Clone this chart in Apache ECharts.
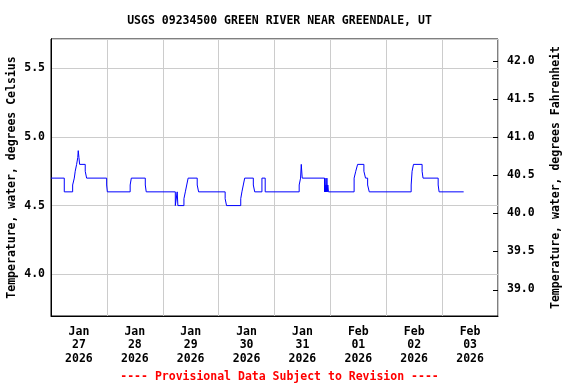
<!DOCTYPE html>
<html>
<head>
<meta charset="utf-8">
<script src="https://cdn.jsdelivr.net/npm/echarts@6/dist/echarts.min.js"></script>
<style>
html,body{margin:0;padding:0;background:#fff;}
#chart{width:576px;height:384px;}
</style>
</head>
<body>
<div id="chart"></div>
<script>
// Day labels, placed at noon of each day (x in hours since Jan 27 2026 00:00)
const dayLabels = ['Jan\n27\n2026','Jan\n28\n2026','Jan\n29\n2026','Jan\n30\n2026','Jan\n31\n2026','Feb\n01\n2026','Feb\n02\n2026','Feb\n03\n2026'];
const dayLabelHours = [12, 36, 60, 84, 108, 132, 156, 180];
// Change points: hours since Jan 27 00:00, and the temperature (deg C) from then on
const hoursSinceStart = [0, 5.7, 9.3, 10.0, 10.4, 11.0, 11.5, 11.7, 12.0, 12.3, 14.7, 15.3, 23.9, 24.2,
  34.0, 34.5, 40.5, 40.9, 53.4, 54.2, 54.5, 57.1, 57.7, 58.3, 58.9, 62.8, 63.4,
  74.8, 75.4, 81.5, 82.0, 82.6, 83.2, 86.9, 87.5, 90.6, 92.0,
  106.6, 107.2, 107.5, 107.9, 117.5, 117.7, 117.9, 118.1, 118.3, 118.5, 118.7, 118.9, 119.2,
  130.2, 130.9, 131.7, 134.4, 135.1, 136.0, 136.7,
  154.7, 155.1, 155.7, 159.4, 159.8, 166.3, 166.7, 177.25];
const tempC = [4.7, 4.6, 4.65, 4.7, 4.75, 4.8, 4.85, 4.9, 4.85, 4.8, 4.75, 4.7, 4.65, 4.6,
  4.65, 4.7, 4.65, 4.6, 4.5, 4.6, 4.5, 4.55, 4.6, 4.65, 4.7, 4.65, 4.6,
  4.55, 4.5, 4.55, 4.6, 4.65, 4.7, 4.65, 4.6, 4.7, 4.6,
  4.65, 4.7, 4.8, 4.7, 4.6, 4.7, 4.6, 4.65, 4.6, 4.7, 4.6, 4.65, 4.6,
  4.7, 4.75, 4.8, 4.75, 4.7, 4.65, 4.6,
  4.65, 4.75, 4.8, 4.75, 4.7, 4.65, 4.6, 4.6];
const celsiusTicks = [4.0, 4.5, 5.0, 5.5];
const fahrenheitTicks = [39.0, 39.5, 40.0, 40.5, 41.0, 41.5, 42.0];
const cMin = 3.696, cMax = 5.713;
const xMax = 192;

const FONT = 'DejaVu Sans Mono';
const chart = echarts.init(document.getElementById('chart'), null, {renderer: 'canvas'});
const txt = {fontFamily: FONT, fontSize: 11.5, fontWeight: 'bold', color: '#000'};

chart.setOption({
  animation: false,
  backgroundColor: '#fff',
  title: [
    {text: 'USGS 09234500 GREEN RIVER NEAR GREENDALE, UT', left: 274.5, textAlign: 'center', top: 10,
     textStyle: Object.assign({}, txt)},
    {text: '---- Provisional Data Subject to Revision ----', left: 274.5, textAlign: 'center', top: 366,
     textStyle: Object.assign({}, txt, {color: '#ff0000'})}
  ],
  grid: {left: 51, right: 78, top: 39, bottom: 68, show: true, borderColor: '#000', borderWidth: 1,
         containLabel: false, outerBoundsMode: 'none'},
  xAxis: [
    {type: 'value', min: 0, max: xMax, interval: 24, position: 'bottom',
     axisLine: {show: true, lineStyle: {color: '#000', width: 1}},
     axisTick: {show: false}, axisLabel: {show: false},
     splitLine: {show: true, lineStyle: {color: '#cccccc', width: 1}}},
    {type: 'value', min: 0, max: xMax, position: 'bottom',
     axisLine: {show: false}, axisTick: {show: false}, splitLine: {show: false},
     axisLabel: {show: true, customValues: dayLabelHours, margin: 9, lineHeight: 13.5,
       formatter: v => dayLabels[dayLabelHours.indexOf(v)] || '',
       fontFamily: FONT, fontSize: 11.5, fontWeight: 'bold', color: '#000'}}
  ],
  yAxis: [
    {type: 'value', position: 'left', min: cMin, max: cMax,
     name: 'Temperature, water, degrees Celsius', nameLocation: 'middle', nameGap: 33, nameRotate: 90,
     nameMoveOverlap: false,
     nameTextStyle: Object.assign({}, txt),
     axisLine: {show: true, lineStyle: {color: '#000'}},
     axisTick: {show: false},
     axisLabel: {customValues: celsiusTicks, formatter: v => v.toFixed(1), margin: 6,
       fontFamily: FONT, fontSize: 11.5, fontWeight: 'bold', color: '#000'},
     splitLine: {show: true, lineStyle: {color: '#cccccc', width: 1}}},
    {type: 'value', position: 'right', min: cMin * 1.8 + 32, max: cMax * 1.8 + 32,
     name: 'Temperature, water, degrees Fahrenheit', nameLocation: 'middle', nameGap: 52, nameRotate: 90,
     nameMoveOverlap: false,
     nameTextStyle: Object.assign({}, txt),
     axisLine: {show: true, lineStyle: {color: '#000'}},
     axisTick: {show: false},
     axisLabel: {customValues: fahrenheitTicks, formatter: v => v.toFixed(1), margin: 9,
       fontFamily: FONT, fontSize: 11.5, fontWeight: 'bold', color: '#000'},
     splitLine: {show: false}}
  ],
  series: [
    {
      type: 'line', xAxisIndex: 0, yAxisIndex: 0, step: 'end',
      showSymbol: false, symbol: 'none',
      lineStyle: {color: '#0000ff', width: 1},
      data: hoursSinceStart.map((h, i) => [h, tempC[i]])
    },
    {
      // inward tick marks of the Fahrenheit axis
      type: 'custom', xAxisIndex: 0, yAxisIndex: 1, silent: true, clip: false,
      data: fahrenheitTicks.map(f => [xMax, f]),
      renderItem: (params, api) => {
        const p = api.coord([api.value(0), api.value(1)]);
        const y = Math.round(p[1]) + 0.5;
        return {type: 'line', shape: {x1: p[0] - 5, y1: y, x2: p[0], y2: y},
                style: {stroke: '#000', lineWidth: 1}};
      }
    }
  ]
});
</script>
</body>
</html>
